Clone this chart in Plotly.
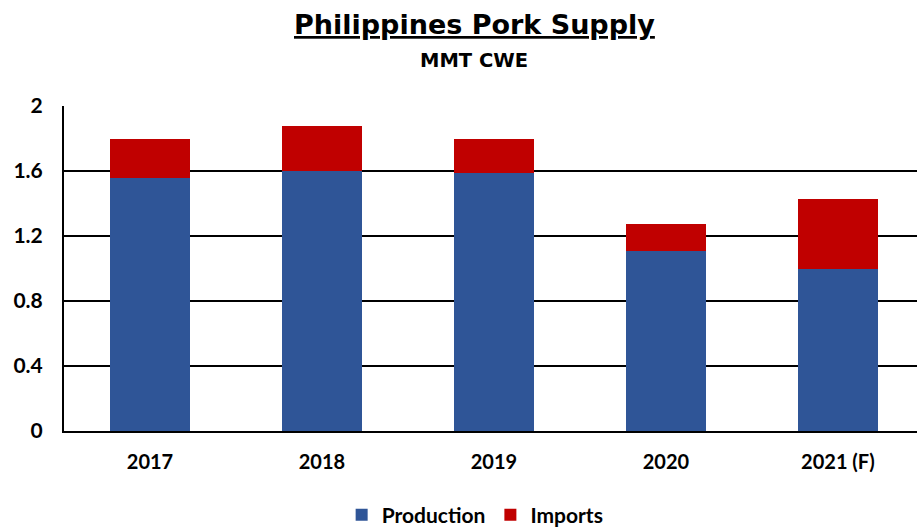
import plotly.graph_objects as go

years = ["2017", "2018", "2019", "2020", "2021 (F)"]
production = [1.56, 1.60, 1.585, 1.11, 1.00]
imports = [0.24, 0.28, 0.215, 0.165, 0.425]
y_ticks = [0, 0.4, 0.8, 1.2, 1.6, 2]
y_tick_text = ["0", "0.4", "0.8", "1.2", "1.6", "2"]

FONT = "Lato"
TFONT = "DejaVu Sans"

fig = go.Figure()
fig.add_trace(go.Bar(x=years, y=production, name="Production",
                     marker=dict(color="#2F5597", line=dict(width=0))))
fig.add_trace(go.Bar(x=years, y=imports, name="Imports",
                     marker=dict(color="#C00000", line=dict(width=0))))

fig.update_layout(
    width=917, height=527,
    barmode="stack", bargap=0.535,
    plot_bgcolor="white", paper_bgcolor="white",
    margin=dict(l=64, r=0, t=106, b=96, autoexpand=False),
    font=dict(family=FONT, color="black", size=20, weight="bold"),
    showlegend=True,
    legend=dict(orientation="h", x=0.482, xanchor="center",
                yref="container", y=0.0228, yanchor="middle",
                font=dict(size=21, family=FONT, weight="bold"), traceorder="normal",
                itemwidth=30),
    annotations=[
        dict(text="Philippines Pork Supply", xref="paper", yref="paper",
             x=0.481, y=1.252, xanchor="center", yanchor="middle", showarrow=False,
             font=dict(size=27, family=TFONT, weight="bold", color="black", lineposition="under")),
        dict(text="MMT CWE", xref="paper", yref="paper",
             x=0.481, y=1.140, xanchor="center", yanchor="middle", showarrow=False,
             font=dict(size=19.5, family=TFONT, weight="bold", color="black")),
    ],
)
fig.update_xaxes(
    range=[-0.5, 4.46], showline=True, linecolor="black", linewidth=2,
    ticks="", ticklabelstandoff=12, showgrid=False,
    tickfont=dict(size=20, family=FONT, weight="bold"),
)
fig.update_yaxes(
    range=[0, 2], tickvals=y_ticks, ticktext=y_tick_text,
    showline=True, linecolor="black", linewidth=2,
    showgrid=True, gridcolor="black", gridwidth=2, zeroline=False,
    ticks="", ticklabelstandoff=15,
    tickfont=dict(size=21, family=FONT, weight="bold"),
)
fig.write_html("out.html")
